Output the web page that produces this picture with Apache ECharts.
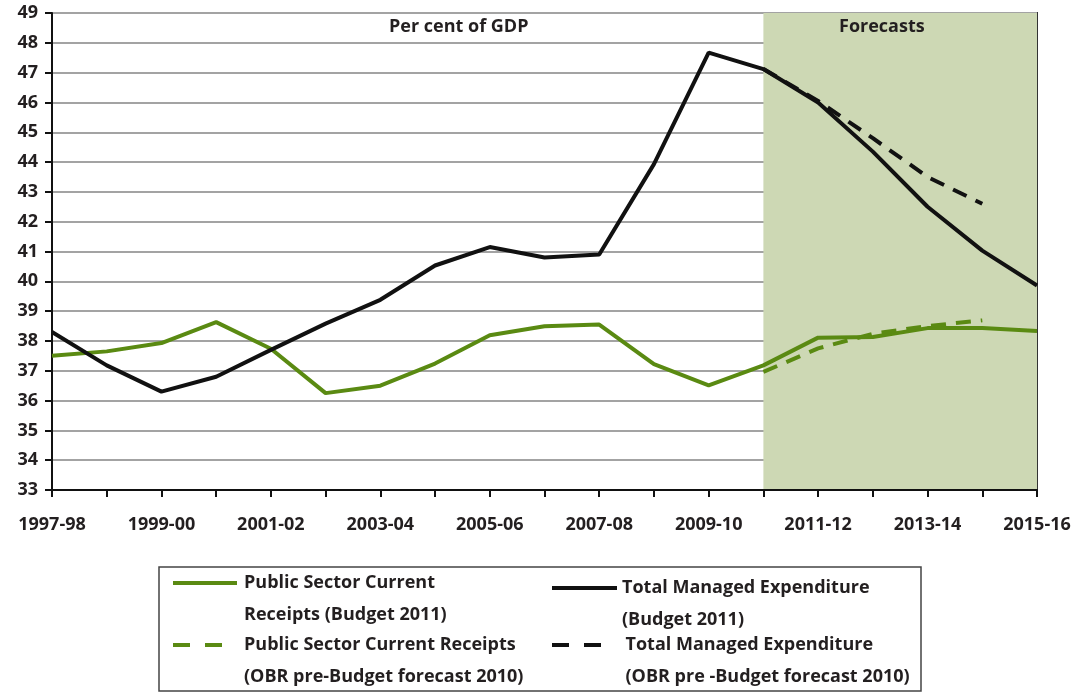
<!DOCTYPE html>
<html>
<head>
<meta charset="utf-8">
<script src="https://cdn.jsdelivr.net/npm/echarts@6/dist/echarts.min.js"></script>
<style>
  html, body { margin: 0; padding: 0; background: #fff; }
  #chart { width: 1078px; height: 693px; }
</style>
</head>
<body>
<div id="chart"></div>
<script>
const years = ['1997-98', '1998-99', '1999-00', '2000-01', '2001-02', '2002-03', '2003-04', '2004-05', '2005-06', '2006-07',
  '2007-08', '2008-09', '2009-10', '2010-11', '2011-12', '2012-13', '2013-14', '2014-15', '2015-16']

// Per cent of GDP
const receiptsBudget = [37.5, 37.65, 37.93, 38.63, 37.74, 36.25, 36.5, 37.24, 38.19, 38.49,
  38.55, 37.22, 36.51, 37.18, 38.11, 38.13, 38.43, 38.43, 38.33]
const tmeBudget = [38.3, 37.18, 36.3, 36.8, 37.7, 38.58, 39.38, 40.53, 41.15, 40.8,
  40.9, 43.93, 47.67, 47.12, 46.0, 44.35, 42.5, 41.03, 39.86]
const receiptsObr = [null, null, null, null, null, null, null, null, null, null,
  null, null, null, 36.96, 37.75, 38.24, 38.5, 38.69, null]
const tmeObr = [null, null, null, null, null, null, null, null, null, null,
  null, null, null, 47.12, 46.05, 44.8, 43.5, 42.6, null]

const forecastFrom = '2010-11'
const forecastTo = '2015-16'

const green = '#5a8a12'
const black = '#111111'
const font = '"Open Sans", "Noto Sans", sans-serif'
const txt = '#231f20'

const names = [
  'Public Sector Current Receipts (Budget 2011)',
  'Total Managed Expenditure (Budget 2011)',
  'Public Sector Current Receipts (OBR pre-Budget forecast 2010)',
  'Total Managed Expenditure (OBR pre-Budget forecast 2010)'
]
const legendLines = [
  'Public Sector Current\nReceipts (Budget 2011)',
  'Total Managed Expenditure\n(Budget 2011)',
  'Public Sector Current Receipts\n(OBR pre-Budget forecast 2010)',
  'Total Managed Expenditure\n(OBR pre -Budget forecast 2010)'
]

const solidIcon = 'rect'
const dashIcon = 'path://M0,0h17v4h-17zM32,0h17v4h-17z'

const chart = echarts.init(document.getElementById('chart'))

// blank first line so the icon sits level with the first text line
const mkLegend = (i, left, top, w, icon, padLeft) => ({
  data: [names[i]],
  left, top,
  padding: 0,
  icon,
  itemWidth: w,
  itemHeight: 4,
  formatter: () => '\u00a0\n' + legendLines[i],
  textStyle: {
    fontFamily: font, fontSize: 18, fontWeight: 'bold', color: txt,
    lineHeight: 32, padding: [0, 0, 0, padLeft]
  },
  selectedMode: false
})

const labelFont = { fontFamily: font, fontSize: 18, fontWeight: 'bold', color: txt }

chart.setOption({
  animation: false,
  backgroundColor: '#fff',
  title: [
    { text: 'Per cent of GDP', left: 389, top: 18, padding: 0, textStyle: labelFont },
    { text: 'Forecasts', left: 839, top: 18, padding: 0, textStyle: labelFont }
  ],
  grid: { left: 52, right: 41, top: 13, bottom: 203, show: true, borderColor: '#333', borderWidth: 2, z: 1 },
  legend: [
    mkLegend(0, 173, 535, 64, solidIcon, 2),
    mkLegend(1, 552, 540, 65, solidIcon, 0),
    mkLegend(2, 173, 597, 49, dashIcon, 17),
    mkLegend(3, 552, 597, 50, dashIcon, 19)
  ],
  graphic: [{
    type: 'rect',
    shape: { x: 159, y: 567, width: 762, height: 124 },
    style: { fill: 'none', stroke: '#444', lineWidth: 1.5 },
    silent: true
  }],
  xAxis: {
    type: 'category',
    data: years,
    boundaryGap: false,
    z: 1,
    axisLine: { lineStyle: { color: '#111', width: 2 } },
    axisTick: { show: true, interval: 0, length: 7, lineStyle: { color: '#111', width: 2 } },
    axisLabel: Object.assign({ interval: 1, margin: 26 }, labelFont),
    splitLine: { show: false }
  },
  yAxis: {
    type: 'value',
    min: 33, max: 49, interval: 1,
    z: 1,
    axisLine: { show: true, lineStyle: { color: '#111', width: 2 } },
    axisTick: { show: true, length: 7, lineStyle: { color: '#111', width: 2 } },
    axisLabel: Object.assign({ margin: 14 }, labelFont),
    splitLine: { lineStyle: { color: '#a3a3a3', width: 2 } }
  },
  series: [
    {
      name: 'forecast-area', type: 'line', data: [], z: 0, silent: true,
      markArea: {
        silent: true,
        itemStyle: { color: '#cdd8b4' },
        data: [[{ xAxis: forecastFrom }, { xAxis: forecastTo }]]
      }
    },
    {
      name: names[0], type: 'line', data: receiptsBudget, symbol: 'none', z: 3,
      lineStyle: { color: green, width: 4 }, itemStyle: { color: green }
    },
    {
      name: names[1], type: 'line', data: tmeBudget, symbol: 'none', z: 3,
      lineStyle: { color: black, width: 4 }, itemStyle: { color: black }
    },
    {
      name: names[2], type: 'line', data: receiptsObr, symbol: 'none', z: 4,
      lineStyle: { color: green, width: 4, type: [15, 10] }, itemStyle: { color: green }
    },
    {
      name: names[3], type: 'line', data: tmeObr, symbol: 'none', z: 4,
      lineStyle: { color: black, width: 4, type: [15, 10] }, itemStyle: { color: black }
    }
  ]
})
</script>
</body>
</html>
